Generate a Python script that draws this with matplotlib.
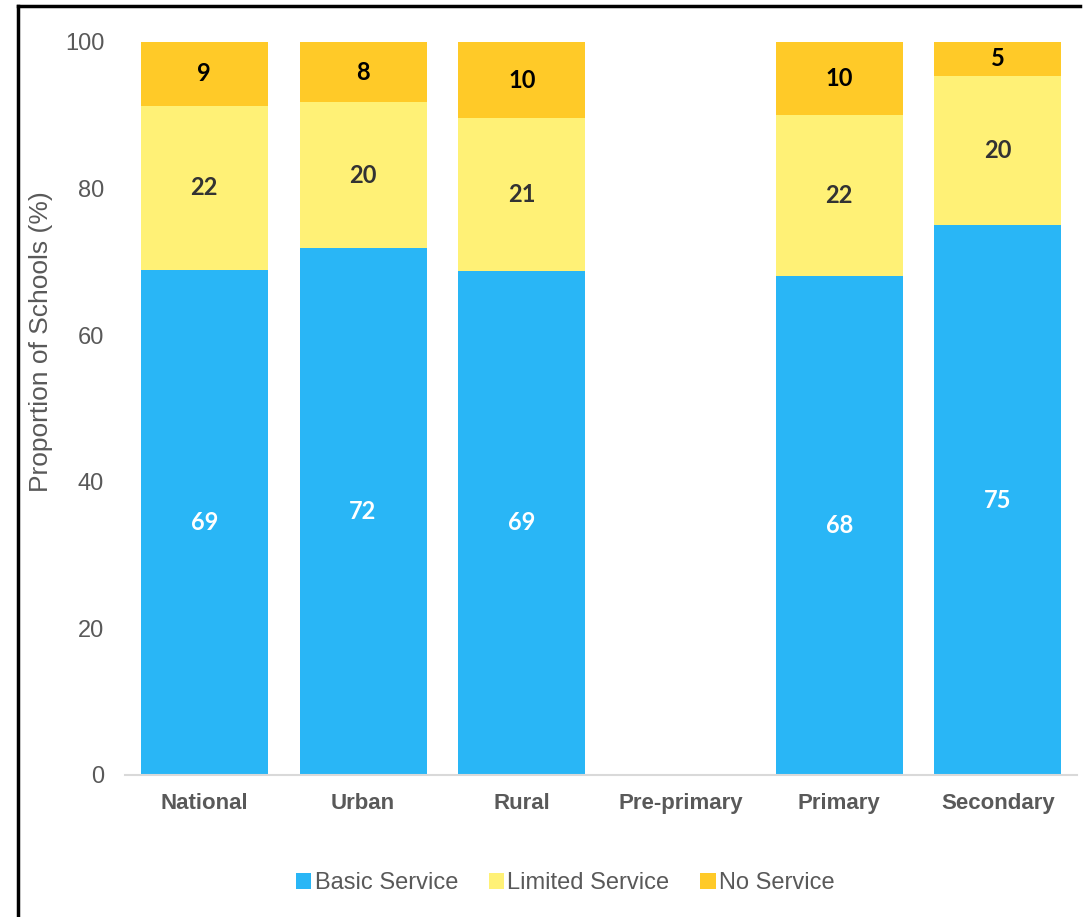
import numpy as np
import matplotlib.pyplot as plt
from matplotlib.lines import Line2D

categories = ["National", "Urban", "Rural", "Pre-primary", "Primary", "Secondary"]
basic = [68.9, 71.9, 68.8, np.nan, 68.1, 75.0]
limited = [22.4, 19.9, 20.8, np.nan, 21.9, 20.4]
no_service = [8.7, 8.2, 10.4, np.nan, 10.0, 4.6]
series_names = ["Basic Service", "Limited Service", "No Service"]

colors = ["#29B6F6", "#FFF176", "#FFCA28"]
label_colors = ["white", "#333333", "black"]
gray = "#595959"

plt.rcParams["font.family"] = ["Liberation Sans", "DejaVu Sans"]

fig = plt.figure(figsize=(10.87, 9.17), dpi=100)
ax = fig.add_axes([0.115, 0.1549, 0.876, 0.7993])

x = np.arange(len(categories))
bottom = np.zeros(len(categories))
for vals, name, c, lc in zip([basic, limited, no_service], series_names, colors, label_colors):
    v = np.nan_to_num(np.array(vals, dtype=float))
    ax.bar(x, v, width=0.8, bottom=bottom, color=c, label=name, linewidth=0)
    for xi, yi, b in zip(x, v, bottom):
        if yi > 0:
            ax.text(xi, b + yi / 2, f"{yi:.0f}", ha="center", va="center",
                    color=lc, fontsize=17, fontweight="bold", family=["Lato", "DejaVu Sans"])
    bottom = bottom + v

ax.set_xlim(-0.5, len(categories) - 0.5)
ax.set_ylim(0, 100)
ax.set_yticks([0, 20, 40, 60, 80, 100])
ax.set_xticks(x)
ax.set_xticklabels(categories, fontweight="bold", fontsize=16, color=gray)
ax.tick_params(axis="y", length=0, labelsize=17, labelcolor=gray, pad=15)
ax.tick_params(axis="x", length=0, pad=13)
for s in ["top", "right", "left"]:
    ax.spines[s].set_visible(False)
ax.spines["bottom"].set_color("#D9D9D9")
ax.spines["bottom"].set_linewidth(1.5)
ax.set_ylabel("Proportion of Schools (%)", fontsize=19, color=gray)
ax.yaxis.set_label_coords(-0.076, 0.591)

fig.legend(loc="center", bbox_to_anchor=(0.52, 0.037), ncol=3, frameon=False,
           fontsize=17, labelcolor=gray, handlelength=0.65, handleheight=0.65,
           handletextpad=0.15, columnspacing=1.3)

# border lines from the screenshot
fig.add_artist(Line2D([0.0161, 0.0161], [0.0, 0.9935], color="black", lw=2.5, transform=fig.transFigure))
fig.add_artist(Line2D([0.0161, 0.994], [0.9935, 0.9935], color="black", lw=2.5, transform=fig.transFigure))

fig.savefig("out.png", dpi=100)
